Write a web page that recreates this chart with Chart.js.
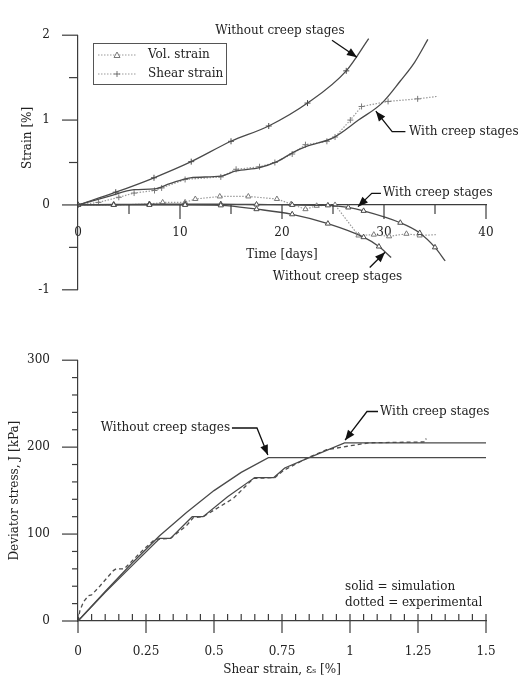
<!DOCTYPE html>
<html lang="en">
<head>
<meta charset="utf-8">
<title>Strain and deviator stress</title>
<script src="https://cdn.jsdelivr.net/npm/chart.js@4/dist/chart.umd.min.js"></script>
<style>
  html, body { margin:0; padding:0; background:#ffffff; }
  #page { position:relative; width:521px; height:682px; overflow:hidden; background:#fff; }
  #top { position:absolute; left:0; top:0; }
  #bottom { position:absolute; left:0; top:325px; }
</style>
</head>
<body>
<div id="page">
  <canvas id="top" width="521" height="325"></canvas>
  <canvas id="bottom" width="521" height="357"></canvas>
</div>
<script>
// ================= DATA: top panel (strain [%] vs time [days]) =================
const timeTickValues   = [0, 10, 20, 30, 40];
const strainTickValues = [-1, 0, 1, 2];

// shear strain, simulation without creep stages
const shearNoCreepT = [0, 3.7, 7.45, 11.1, 15, 18.7, 22.5, 26.3, 28.5];
const shearNoCreepS = [0, 0.15, 0.32, 0.51, 0.75, 0.93, 1.2, 1.58, 1.96];
// shear strain, simulation with creep stages
const shearCreepT = [0, 3, 5.5, 7.5, 9, 11, 14, 15.5, 17.8, 19.5, 21.1, 22.4, 25, 27.5, 29.8, 31.6, 33, 34.3];
const shearCreepS = [0, 0.1, 0.18, 0.19, 0.25, 0.32, 0.34, 0.4, 0.44, 0.51, 0.62, 0.69, 0.79, 1.0, 1.2, 1.46, 1.68, 1.95];
// shear strain, experimental
const shearExpT = [0, 2, 4, 5.5, 7.5, 8.2, 10.5, 14, 15.5, 17.8, 19.3, 21, 22.3, 24.4, 25.2, 26.7, 27.8, 30.4, 33.3, 35.3];
const shearExpS = [0, 0.03, 0.09, 0.14, 0.17, 0.2, 0.3, 0.33, 0.42, 0.45, 0.5, 0.6, 0.71, 0.75, 0.8, 1.0, 1.16, 1.22, 1.25, 1.28];
// volumetric strain, simulation without creep stages
const volNoCreepT = [0, 3.5, 7, 10.5, 14, 17.5, 21, 24.5, 28, 29.5, 30.7];
const volNoCreepS = [0, 0, 0, 0, -0.005, -0.05, -0.11, -0.22, -0.38, -0.49, -0.62];
// volumetric strain, simulation with creep stages
const volCreepT = [0, 3.5, 7, 10.5, 14, 17.5, 21, 24.5, 26.5, 28, 31.6, 33.5, 35, 36];
const volCreepS = [0, 0.005, 0.01, 0.01, 0.01, 0.005, 0, -0.005, -0.03, -0.07, -0.21, -0.33, -0.5, -0.66];
// volumetric strain, experimental
const volExpT = [0, 3.5, 7, 8.3, 10.5, 11.5, 13.9, 16.7, 19.5, 20.9, 22.3, 23.4, 25.2, 27.5, 29, 30.5, 32.2, 33.5, 35.2];
const volExpS = [0, 0, 0.01, 0.03, 0.03, 0.07, 0.1, 0.1, 0.07, 0.01, -0.05, -0.01, 0, -0.36, -0.35, -0.37, -0.34, -0.36, -0.35];

// ================= DATA: bottom panel (deviator stress vs shear strain) =================
const shearStrainTickValues = [0, 0.25, 0.5, 0.75, 1, 1.25, 1.5];
const stressTickValues      = [0, 100, 200, 300];

// simulation without creep stages
const jNoCreepE = [0, 0.1, 0.2, 0.3, 0.4, 0.5, 0.6, 0.7, 1.5];
const jNoCreepJ = [0, 34, 67, 98, 125, 150, 171, 188, 188];
// simulation with creep stages
const jCreepE = [0, 0.1, 0.2, 0.3, 0.34, 0.42, 0.46, 0.55, 0.65, 0.72, 0.76, 0.85, 0.98, 1.5];
const jCreepJ = [0, 33, 64, 95, 95, 120, 120, 143, 165, 165, 176, 188, 205, 205];
// experimental
const jExpE = [0, 0.007, 0.02, 0.038, 0.05, 0.08, 0.13, 0.14, 0.17, 0.24, 0.283, 0.34, 0.4, 0.424, 0.46, 0.571, 0.645, 0.724, 0.755, 0.846, 0.914, 0.99, 1.07, 1.276, 1.28];
const jExpJ = [0, 12, 22, 29, 30, 40, 58, 60, 60, 82, 94, 95, 110, 119, 120, 141, 164, 165, 173, 188, 197, 201, 205, 206, 210];

// ================= helpers & styling =================
const FONT = "'DejaVu Serif', 'Liberation Serif', serif";
const SIM = '#4a4a4a', EXP = '#9a9a9a', AXIS = '#3c3c3c', TXT = '#222222';
Chart.defaults.font.family = FONT;
Chart.defaults.font.size = 12;
Chart.defaults.color = TXT;

const pts = (xs, ys) => xs.map((v, i) => ({ x: v, y: ys[i] }));
const noLast = c => (c.dataIndex === c.dataset.data.length - 1 ? 0 : 3);
const fmt = v => String(Math.round(v * 100) / 100);

function seg(ctx, x1, y1, x2, y2) { ctx.beginPath(); ctx.moveTo(x1, y1); ctx.lineTo(x2, y2); ctx.stroke(); }
function text(ctx, s, x, y, align) {
  ctx.save(); ctx.fillStyle = TXT; ctx.font = '12px ' + FONT;
  ctx.textAlign = align || 'left'; ctx.textBaseline = 'middle'; ctx.fillText(s, x, y); ctx.restore();
}
function arrow(ctx, p) {
  ctx.save(); ctx.strokeStyle = '#111'; ctx.fillStyle = '#111'; ctx.lineWidth = 1.3;
  ctx.beginPath(); ctx.moveTo(p[0][0], p[0][1]);
  for (let i = 1; i < p.length; i++) ctx.lineTo(p[i][0], p[i][1]);
  ctx.stroke();
  const [ax, ay] = p[p.length - 2], [bx, by] = p[p.length - 1];
  const a = Math.atan2(by - ay, bx - ax), L = 10, W = 4;
  ctx.beginPath();
  ctx.moveTo(bx, by);
  ctx.lineTo(bx - L * Math.cos(a) + W * Math.sin(a), by - L * Math.sin(a) - W * Math.cos(a));
  ctx.lineTo(bx - L * Math.cos(a) - W * Math.sin(a), by - L * Math.sin(a) + W * Math.cos(a));
  ctx.closePath(); ctx.fill();
  ctx.restore();
}

// ================= TOP CHART =================
const topDecor = {
  id: 'topDecor',
  afterDraw(chart) {
    const { ctx, chartArea: ca, scales: { x, y } } = chart;
    const X = v => x.getPixelForValue(v), Y = v => y.getPixelForValue(v);
    ctx.save();
    ctx.strokeStyle = AXIS; ctx.lineWidth = 1.2;
    for (let i = 0; i <= 6; i++) { const v = -1 + i * 0.5; const len = i % 2 === 0 ? 16 : 9; seg(ctx, ca.left - len, Y(v), ca.left, Y(v)); }
    const y0 = Y(0);
    for (let t = 5; t <= 40; t += 5) { const len = t % 10 === 0 ? 14 : 9; seg(ctx, X(t), y0, X(t), y0 + len); }
    // legend box
    ctx.lineWidth = 1; ctx.strokeStyle = '#555';
    ctx.strokeRect(93.5, 43.5, 133, 41);
    ctx.strokeStyle = EXP; ctx.setLineDash([1.5, 1.5]); ctx.lineWidth = 1.2;
    seg(ctx, 98, 55, 137, 55); seg(ctx, 98, 74, 137, 74);
    ctx.setLineDash([]);
    ctx.strokeStyle = '#777'; ctx.fillStyle = '#fff'; ctx.lineWidth = 1;
    ctx.beginPath(); ctx.moveTo(117, 52); ctx.lineTo(120, 57.5); ctx.lineTo(114, 57.5); ctx.closePath(); ctx.fill(); ctx.stroke();
    seg(ctx, 114, 74, 120, 74); seg(ctx, 117, 71, 117, 77);
    ctx.restore();
    text(ctx, 'Vol. strain', 148, 55);
    text(ctx, 'Shear strain', 148, 74);
    // y-axis title
    ctx.save(); ctx.translate(28, Y(0.79)); ctx.rotate(-Math.PI / 2);
    text(ctx, 'Strain [%]', 0, 0, 'center'); ctx.restore();
    // annotations
    text(ctx, 'Without creep stages', X(19.8), Y(2.05), 'center');
    arrow(ctx, [[X(24.9), Y(1.94)], [X(27.35), Y(1.74)]]);
    text(ctx, 'With creep stages', X(32.45), Y(0.863), 'left');
    arrow(ctx, [[X(32.1), Y(0.863)], [X(30.8), Y(0.863)], [X(29.2), Y(1.105)]]);
    text(ctx, 'With creep stages', X(29.9), Y(0.137), 'left');
    arrow(ctx, [[X(29.7), Y(0.137)], [X(28.8), Y(0.137)], [X(27.45), Y(-0.02)]]);
    text(ctx, 'Without creep stages', X(25.44), Y(-0.853), 'center');
    arrow(ctx, [[X(28.6), Y(-0.737)], [X(30.1), Y(-0.558)]]);
  }
};

const simLine = (label, data, style) => ({
  label, data, borderColor: SIM, borderWidth: 1.3, cubicInterpolationMode: 'monotone',
  pointStyle: style || false, pointRadius: style ? noLast : 0, pointBorderColor: SIM,
  pointBackgroundColor: '#fff', pointBorderWidth: 1
});
const expLine = (label, data, style) => ({
  label, data, borderColor: EXP, borderWidth: 1.2, borderDash: [1.5, 1.5], tension: 0,
  pointStyle: style, pointRadius: noLast, pointBorderColor: '#7a7a7a',
  pointBackgroundColor: '#fff', pointBorderWidth: 1
});

new Chart(document.getElementById('top'), {
  type: 'line',
  data: {
    datasets: [
      simLine('Shear strain (simulation, without creep stages)', pts(shearNoCreepT, shearNoCreepS), 'cross'),
      simLine('Shear strain (simulation, with creep stages)', pts(shearCreepT, shearCreepS)),
      simLine('Vol. strain (simulation, without creep stages)', pts(volNoCreepT, volNoCreepS), 'triangle'),
      simLine('Vol. strain (simulation, with creep stages)', pts(volCreepT, volCreepS), 'triangle'),
      expLine('Shear strain', pts(shearExpT, shearExpS), 'cross'),
      expLine('Vol. strain', pts(volExpT, volExpS), 'triangle')
    ]
  },
  options: {
    responsive: false, animation: false,
    layout: { padding: { left: 0, right: 35, top: 22, bottom: 18 } },
    plugins: { legend: { display: false }, tooltip: { enabled: false } },
    scales: {
      x: {
        type: 'linear', position: { y: 0 }, min: 0, max: 40,
        afterBuildTicks: s => { s.ticks = timeTickValues.map(v => ({ value: v })); },
        ticks: { padding: 21, callback: fmt, maxRotation: 0 },
        grid: { display: false, drawTicks: false },
        border: { display: true, color: AXIS, width: 1.2 },
        title: { display: true, text: 'Time [days]', padding: { top: 0, bottom: 3 }, font: { size: 12 } },
        afterFit: s => { s.height = 60; }
      },
      y: {
        type: 'linear', min: -1, max: 2,
        afterBuildTicks: s => { s.ticks = strainTickValues.map(v => ({ value: v })); },
        ticks: { padding: 28, callback: fmt },
        grid: { display: false, drawTicks: false },
        border: { display: true, color: AXIS, width: 1.2 },
        afterFit: s => { s.width = 78; }
      }
    }
  },
  plugins: [topDecor]
});

// ================= BOTTOM CHART =================
const bottomDecor = {
  id: 'bottomDecor',
  afterDraw(chart) {
    const { ctx, chartArea: ca, scales: { x, y } } = chart;
    const X = v => x.getPixelForValue(v), Y = v => y.getPixelForValue(v);
    ctx.save();
    ctx.strokeStyle = AXIS; ctx.lineWidth = 1.2;
    for (let i = 0; i <= 15; i++) { const v = i * 20; const len = i % 5 === 0 ? 16 : 6; seg(ctx, ca.left - len, Y(v), ca.left, Y(v)); }
    for (let i = 0; i <= 30; i++) {
      const px = X(i * 0.05);
      if (i % 5 === 0) seg(ctx, px, ca.bottom - 7, px, ca.bottom + 12);
      else seg(ctx, px, ca.bottom - 7, px, ca.bottom);
    }
    ctx.restore();
    text(ctx, 'Without creep stages', X(0.559), Y(222), 'right');
    arrow(ctx, [[X(0.566), Y(222)], [X(0.658), Y(222)], [X(0.698), Y(191)]]);
    text(ctx, 'With creep stages', X(1.11), Y(241), 'left');
    arrow(ctx, [[X(1.103), Y(241)], [X(1.0625), Y(241)], [X(0.982), Y(208)]]);
    text(ctx, 'solid = simulation', X(0.9816), Y(38.9), 'left');
    text(ctx, 'dotted = experimental', X(0.9816), Y(21), 'left');
  }
};

new Chart(document.getElementById('bottom'), {
  type: 'line',
  data: {
    datasets: [
      { label: 'Simulation, without creep stages', data: pts(jNoCreepE, jNoCreepJ), borderColor: SIM, borderWidth: 1.3, tension: 0, pointRadius: 0 },
      { label: 'Simulation, with creep stages', data: pts(jCreepE, jCreepJ), borderColor: SIM, borderWidth: 1.3, tension: 0, pointRadius: 0 },
      { label: 'Experimental', data: pts(jExpE, jExpJ), borderColor: '#4f4f4f', borderWidth: 1.3, borderDash: [4, 3], tension: 0, pointRadius: 0 }
    ]
  },
  options: {
    responsive: false, animation: false,
    layout: { padding: { left: 0, right: 35, top: 11, bottom: 0 } },
    plugins: { legend: { display: false }, tooltip: { enabled: false } },
    scales: {
      x: {
        type: 'linear', position: 'bottom', min: 0, max: 1.5,
        afterBuildTicks: s => { s.ticks = shearStrainTickValues.map(v => ({ value: v })); },
        ticks: { padding: 24, callback: fmt, maxRotation: 0 },
        grid: { display: false, drawTicks: false },
        border: { display: true, color: AXIS, width: 1.2 },
        title: { display: true, text: 'Shear strain, \u03b5\u209b [%]', padding: { top: 0, bottom: 5 }, font: { size: 12 } },
        afterFit: s => { s.height = 61; }
      },
      y: {
        type: 'linear', min: 0, max: 300,
        afterBuildTicks: s => { s.ticks = stressTickValues.map(v => ({ value: v })); },
        ticks: { padding: 28, callback: fmt },
        grid: { display: false, drawTicks: false },
        border: { display: true, color: AXIS, width: 1.2 },
        title: { display: true, text: 'Deviator stress, J [kPa]', padding: { top: 8, bottom: 0 }, font: { size: 12 } },
        afterFit: s => { s.width = 78; }
      }
    }
  },
  plugins: [bottomDecor]
});
</script>
</body>
</html>
